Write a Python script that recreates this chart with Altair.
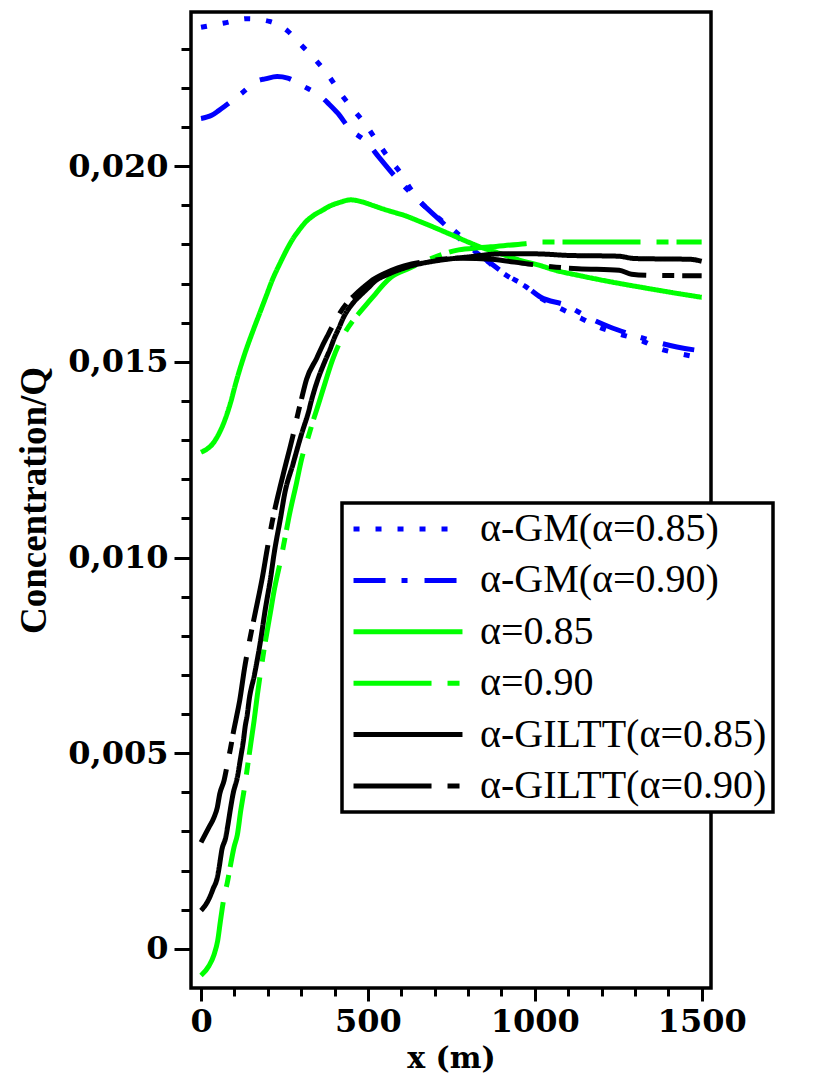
import altair as alt
import pandas as pd

SERIES = ["α-GM(α=0.85)", "α-GM(α=0.90)", "α=0.85", "α=0.90",
          "α-GILTT(α=0.85)", "α-GILTT(α=0.90)"]
COLORS = ["#0000ff", "#0000ff", "#00ff00", "#00ff00", "#000000", "#000000"]
DASHES = [[6, 16], [32, 16, 6, 17], [1, 0], [78, 16, 12, 8], [1, 0], [78, 16, 12, 8]]

gm85_x = [0, 70, 140, 205, 260, 303, 347, 385, 417, 457, 497, 530, 564, 600, 631, 667,
          721, 770, 806, 868, 915, 972, 1018, 1075, 1137, 1189, 1250, 1323, 1369, 1440, 1500]
gm85_y = [0.02355, 0.02366, 0.02377, 0.02370, 0.02345, 0.02307, 0.02268, 0.02228, 0.02187,
          0.02144, 0.02102, 0.02060, 0.02019, 0.01980, 0.01938, 0.01900, 0.01861, 0.01827,
          0.01797, 0.01750, 0.01721, 0.01693, 0.01663, 0.01637, 0.01612, 0.01590, 0.01572,
          0.01553, 0.01535, 0.01520, 0.01510]

gm90_x = [0, 32, 53, 71, 120, 172, 192, 228, 260, 303, 362, 383, 409, 446, 497, 533, 579,
          652, 721, 781, 868, 915, 972, 1018, 1092, 1168, 1225, 1282, 1354, 1426, 1500]
gm90_y = [0.02122, 0.02130, 0.02142, 0.02153, 0.02185, 0.02219, 0.02223, 0.02229, 0.02225,
          0.02206, 0.02176, 0.02159, 0.02136, 0.02095, 0.02061, 0.02023, 0.01976, 0.01912,
          0.01858, 0.01810, 0.01752, 0.01722, 0.01694, 0.01665, 0.01645, 0.01610, 0.01589,
          0.01572, 0.01553, 0.01538, 0.01528]

a85_x = [0, 42, 73, 90, 104, 130, 156, 177, 197, 213, 239, 259, 275, 295, 311, 337, 363, 388,
         414, 448, 486, 517, 548, 579, 610, 652, 703, 755, 801, 848, 899, 951, 1017, 1062, 1131,
         1188, 1256, 1316, 1412, 1500]
a85_y = [0.01269, 0.01299, 0.01355, 0.01400, 0.01445, 0.01518, 0.01580, 0.01627, 0.01672,
         0.01708, 0.01756, 0.01790, 0.01814, 0.01838, 0.01855, 0.01874, 0.01887, 0.01899,
         0.01907, 0.01914, 0.01908, 0.01899, 0.01890, 0.01882, 0.01874, 0.01860, 0.01842,
         0.01823, 0.01806, 0.01790, 0.01776, 0.01761, 0.01746, 0.01734, 0.01721, 0.01711,
         0.01700, 0.01691, 0.01677, 0.01665]

a90_x = [0, 24, 39, 50, 58, 69, 79, 89, 99, 109, 119, 129, 139, 149, 159, 169, 188, 208, 219,
         239, 250, 265, 286, 301, 322, 338, 353, 373, 394, 435, 456, 476, 502, 523, 548, 569,
         621, 714, 765, 817, 868, 972, 1017, 1500]
a90_y = [-0.00068, -0.00043, -0.00015, 0.00021, 0.00070, 0.00132, 0.00170, 0.00217, 0.00260,
         0.00292, 0.00353, 0.00405, 0.00464, 0.00524, 0.00583, 0.00650, 0.00760, 0.00860,
         0.00915, 0.00995, 0.01043, 0.01110, 0.01190, 0.01250, 0.01310, 0.01355, 0.01395,
         0.01450, 0.01505, 0.01580, 0.01606, 0.01627, 0.01653, 0.01674, 0.01699, 0.01716,
         0.01738, 0.01772, 0.01785, 0.01790, 0.01794, 0.01802, 0.01806, 0.01806]

giltt85_x = [0, 24, 36, 49, 56, 62, 74, 81, 89, 96, 109, 119, 127, 132, 139, 144, 160, 177,
             193, 208, 219, 239, 250, 276, 301, 322, 332, 350, 373, 388, 399, 414, 425, 455,
             480, 502, 517, 564, 610, 652, 703, 800, 900, 1000, 1100, 1250, 1300, 1466, 1500]
giltt85_y = [0.00098, 0.00128, 0.00153, 0.00183, 0.00217, 0.00251, 0.00285, 0.00319, 0.00362,
             0.00396, 0.00439, 0.00490, 0.00532, 0.00566, 0.00601, 0.00635, 0.00700, 0.00780,
             0.00870, 0.00945, 0.01010, 0.01105, 0.01160, 0.01240, 0.01315, 0.01372, 0.01405,
             0.01455, 0.01505, 0.01535, 0.01560, 0.01588, 0.01610, 0.01650, 0.01672, 0.01690,
             0.01703, 0.01725, 0.01740, 0.01750, 0.01758, 0.01768, 0.01776, 0.01776, 0.01772,
             0.01770, 0.01764, 0.01762, 0.01757]

giltt90_x = [0, 24, 39, 49, 56, 69, 81, 89, 96, 104, 112, 116, 130, 146, 164, 184, 198, 213,
             234, 250, 275, 291, 301, 316, 347, 362, 378, 393, 409, 435, 460, 486, 507, 548,
             590, 631, 683, 780, 870, 980, 1050, 1130, 1253, 1290, 1350, 1500]
giltt90_y = [0.00272, 0.00311, 0.00336, 0.00362, 0.00396, 0.00430, 0.00481, 0.00515, 0.00549,
             0.00583, 0.00617, 0.00635, 0.00715, 0.00790, 0.00865, 0.00950, 0.01020, 0.01090,
             0.01170, 0.01225, 0.01310, 0.01370, 0.01405, 0.01455, 0.01510, 0.01538, 0.01565,
             0.01590, 0.01615, 0.01648, 0.01670, 0.01690, 0.01705, 0.01725, 0.01740, 0.01750,
             0.01758, 0.01765, 0.01762, 0.01750, 0.01743, 0.01738, 0.01734, 0.01724, 0.01721,
             0.01720]

X_TICKS = list(range(0, 1501, 100))
Y_TICKS = [round(i * 0.001, 3) for i in range(0, 24)]

xs_all = [gm85_x, gm90_x, a85_x, a90_x, giltt85_x, giltt90_x]
ys_all = [gm85_y, gm90_y, a85_y, a90_y, giltt85_y, giltt90_y]
rows = []
for name, xs, ys in zip(SERIES, xs_all, ys_all):
    for xv, yv in zip(xs, ys):
        rows.append({"x": xv, "c": yv, "series": name})
df = pd.DataFrame(rows)

major_y = "abs(datum.value*200 - round(datum.value*200)) < 0.001"
major_x = "datum.value % 500 == 0"

# long horizontal custom symbol: 8 units wide in the [-1, 1] symbol box -> 4*sqrt(size) px
legend = alt.Legend(
    title=None, orient="none", legendX=151, legendY=491, direction="vertical",
    symbolType="M-4,0H4", symbolSize=742, symbolStrokeWidth=5, symbolOffset=40,
    labelFont="Liberation Serif", labelFontSize=40, labelColor="black",
    labelOffset=52, labelLimit=0, padding=6, rowPadding=11.4,
    strokeColor="black", fillColor="white",
)

chart = alt.Chart(df).mark_line(strokeWidth=5, clip=True, interpolate="monotone").encode(
    x=alt.X("x:Q", scale=alt.Scale(domain=[-30, 1528], nice=False, zero=False),
            axis=alt.Axis(values=X_TICKS, title="x (m)",
                          labelExpr=f"{major_x} ? datum.value : ''",
                          tickSize={"condition": {"test": major_x, "value": 13}, "value": 8},
                          tickWidth=3, tickColor="black", domain=False, grid=False,
                          labelFont="DejaVu Serif", labelFontWeight="bold", labelFontSize=32,
                          labelColor="black", labelPadding=5, labelFlush=False,
                          titleFont="DejaVu Serif", titleFontWeight="bold", titleFontSize=30,
                          titleColor="black", titlePadding=6)),
    y=alt.Y("c:Q", scale=alt.Scale(domain=[-0.001, 0.02394], nice=False, zero=False),
            axis=alt.Axis(values=Y_TICKS, title="Concentration/Q",
                          labelExpr=f"{major_y} ? (datum.value == 0 ? '0' : replace(format(datum.value, '.3f'), '.', ',')) : ''",
                          tickSize={"condition": {"test": major_y, "value": 17}, "value": 10},
                          tickWidth=3, tickColor="black", domain=False, grid=False,
                          labelFont="DejaVu Serif", labelFontWeight="bold", labelFontSize=32,
                          labelColor="black", labelPadding=6, labelFlush=False,
                          titleFont="Liberation Serif", titleFontWeight="bold", titleFontSize=37,
                          titleColor="black", titlePadding=14)),
    color=alt.Color("series:N", scale=alt.Scale(domain=SERIES, range=COLORS), legend=legend),
    strokeDash=alt.StrokeDash("series:N", scale=alt.Scale(domain=SERIES, range=DASHES), legend=legend),
).properties(
    width=520, height=976,
    padding={"left": 7, "top": 4, "right": 0, "bottom": 4},
).configure_view(
    stroke="black", strokeWidth=3.5
).configure_legend(
    strokeWidth=3.5
)

chart.save("out.html", embed_options={"renderer": "svg", "actions": False})
